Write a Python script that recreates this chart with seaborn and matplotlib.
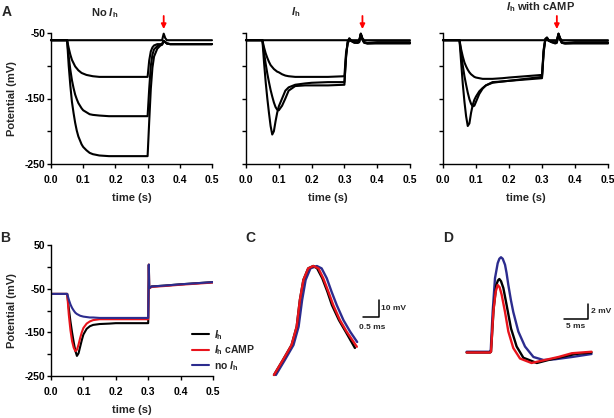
import numpy as np
import pandas as pd
import matplotlib
matplotlib.use('Agg')
import matplotlib.pyplot as plt
import seaborn as sns

sns.set_style('ticks')
plt.rcParams['font.family'] = ['Liberation Sans', 'DejaVu Sans']
plt.rcParams['font.weight'] = 'bold'
plt.rcParams['mathtext.fontset'] = 'custom'
plt.rcParams['mathtext.rm'] = 'Liberation Sans'
plt.rcParams['mathtext.it'] = 'Liberation Sans:italic'
plt.rcParams['mathtext.bf'] = 'Liberation Sans:bold'

BLACK = '#000000'
RED = '#e8141c'
BLUE = '#2c2c8e'

# ---- Panel A: time (s) and membrane potential (mV) ----
t_a = [0.0, 0.05, 0.055, 0.06, 0.065, 0.07, 0.075, 0.08, 0.085, 0.09, 0.095, 0.10,
       0.11, 0.12, 0.13, 0.15, 0.18, 0.20, 0.25, 0.30, 0.305, 0.31, 0.315, 0.32,
       0.33, 0.34, 0.345, 0.35, 0.355, 0.36, 0.37, 0.40, 0.45, 0.50]

# no Ih
a1_rest = [-61, -61, -61, -61, -61, -61, -61, -61, -61, -61, -61, -61, -61, -61, -61, -61, -61,
           -61, -61, -61, -61, -61, -61, -61, -61, -61, -61, -51, -58, -61, -61, -61, -61, -61]
a1_small = [-61, -61, -73, -83, -91, -96, -101, -104, -107, -109, -111, -112, -114, -115, -116,
            -117, -117, -117, -117, -117, -92, -78, -72, -69, -67, -67, -67, -62, -64, -66, -67,
            -67, -67, -67]
a1_mid = [-61, -61, -86, -106, -122, -134, -144, -151, -157, -161, -165, -168, -171, -174, -175,
          -176, -177, -177, -177, -177, -135, -100, -83, -75, -70, -68, -67, -62, -64, -66, -67,
          -67, -67, -67]
a1_big = [-61, -61, -100, -130, -155, -172, -187, -199, -208, -214, -220, -224, -229, -233, -235,
          -237, -238, -238, -238, -238, -185, -135, -103, -86, -74, -69, -68, -62, -64, -66, -67,
          -67, -67, -67]

# Ih
a2_rest = a1_rest
a2_small = [-61, -61, -72, -81, -88, -94, -99, -102, -105, -107, -109, -110, -113, -115, -116,
            -117, -117, -117, -117, -116, -80, -66, -61, -62, -64, -64, -63, -52, -60, -64, -65,
            -64, -64, -64]
a2_mid = [-61, -61, -80, -97, -112, -125, -137, -147, -156, -163, -167, -168, -161, -150, -138,
          -131, -130, -130, -130, -129, -85, -64, -59, -62, -65, -65, -64, -52, -60, -65, -66,
          -65, -65, -65]
a2_big = [-61, -61, -95, -125, -150, -172, -192, -205, -200, -185, -172, -162, -150, -138, -133,
          -129, -127, -126, -125, -125, -88, -63, -58, -61, -64, -65, -64, -51, -60, -64, -66,
          -66, -66, -66]

# Ih with cAMP
a3_rest = a1_rest
a3_small = [-61, -61, -75, -86, -95, -101, -106, -110, -113, -115, -117, -118, -119, -120, -120,
            -120, -119, -118, -116, -114, -75, -60, -58, -62, -64, -64, -63, -51, -60, -64, -65,
            -64, -64, -64]
a3_mid = [-61, -61, -82, -100, -116, -129, -141, -151, -158, -162, -161, -155, -143, -135, -130,
          -126, -124, -123, -120, -117, -78, -59, -57, -61, -64, -65, -64, -52, -60, -65, -66,
          -65, -65, -65]
a3_big = [-61, -61, -95, -128, -155, -177, -192, -188, -172, -160, -152, -147, -139, -134, -130,
          -125, -124, -123, -121, -119, -80, -60, -57, -61, -64, -66, -65, -52, -60, -65, -66,
          -66, -66, -66]

a_titles = [r'No $\it{I}_{\rm h}$', r'$\it{I}_{\rm h}$', r'$\it{I}_{\rm h}$ with cAMP']
arrow_t = [0.35, 0.355, 0.345]

# ---- Panel B ----
t_b = [0.0, 0.05, 0.055, 0.06, 0.065, 0.07, 0.075, 0.08, 0.085, 0.09, 0.095, 0.10, 0.11,
       0.12, 0.13, 0.15, 0.18, 0.20, 0.25, 0.30, 0.301, 0.302, 0.303, 0.305, 0.31, 0.35,
       0.40, 0.45, 0.50]
b_ih = [-62, -62, -95, -125, -150, -172, -192, -204, -198, -183, -168, -155, -142, -136, -133,
        -131, -130, -129, -129, -129, -60, 5, -45, -48, -45, -43, -40, -37.5, -35]
b_camp = [-62, -62, -110, -145, -170, -185, -193, -190, -178, -163, -150, -140, -130, -125, -122,
          -120, -120, -120, -120, -120, -60, 5, -46, -49, -46, -44, -41, -38.5, -36]
b_noih = [-62, -62, -75, -86, -94, -100, -105, -108, -110, -112, -113, -114, -115, -116, -116,
          -117, -117, -117, -117, -117, -60, 5, -45, -48, -45, -43, -40, -37.5, -35]
b_labels = [r'$\it{I}_{\rm h}$', r'$\it{I}_{\rm h}$ cAMP', r'no $\it{I}_{\rm h}$']

# ---- Panel C: spike (ms, mV) ----
c_t_ih = [0.28, 0.56, 0.83, 0.99, 1.09, 1.20, 1.35, 1.51, 1.63, 1.79, 1.95, 2.09, 2.31, 2.52, 2.81]
c_v_ih = [-34.1, -25.3, -16.5, -5.7, 10.0, 21.8, 28.6, 30.0, 28.6, 22.8, 14.9, 7.1, -1.8, -8.6, -18.2]
c_t_camp = [0.28, 0.56, 0.83, 0.99, 1.09, 1.20, 1.35, 1.51, 1.67, 1.82, 1.98, 2.13, 2.34, 2.55, 2.87]
c_v_camp = [-34.1, -25.3, -16.5, -5.7, 10.0, 21.8, 28.6, 30.0, 28.6, 22.8, 14.9, 7.1, -1.8, -8.6, -17.5]
c_t_noih = [0.34, 0.62, 0.89, 1.05, 1.16, 1.27, 1.42, 1.62, 1.77, 1.93, 2.08, 2.24, 2.45, 2.66, 2.88]
c_v_noih = [-34.1, -25.3, -16.5, -5.7, 10.0, 21.8, 28.6, 30.0, 28.6, 22.8, 14.9, 7.1, -1.8, -8.6, -14.7]

# ---- Panel D: EPSP (ms, mV) ----
d_t_ih = [1.39, 6.25, 6.46, 7.01, 7.57, 7.9, 8.19, 8.55, 9.03, 9.72, 10.63, 11.8, 13.2, 16.0,
          18.4, 21.2, 24.0, 27.4]
d_v_ih = [0.0, 0.0, 0.1, 5.9, 9.0, 9.6, 9.8, 9.5, 8.6, 6.3, 3.2, 0.8, -0.7, -1.4, -1.0, -0.6,
          -0.2, 0.0]
d_t_camp = [1.39, 6.25, 6.46, 6.94, 7.43, 7.85, 8.25, 8.68, 9.38, 10.07, 11.1, 12.5, 14.9, 17.7,
            20.5, 23.3, 27.4]
d_v_camp = [0.0, 0.0, 0.1, 5.4, 8.1, 9.0, 8.7, 7.7, 5.4, 2.8, 0.6, -0.8, -1.4, -1.0, -0.6, -0.1,
            0.1]
d_t_noih = [1.39, 6.25, 6.39, 6.8, 7.29, 7.85, 8.2, 8.54, 8.9, 9.38, 9.7, 10.07, 10.6, 11.1,
            12.15, 13.54, 15.3, 17.4, 19.8, 23.3, 27.4]
d_v_noih = [0.1, 0.1, 0.1, 5.4, 9.9, 11.9, 12.5, 12.7, 12.5, 11.7, 10.6, 9.0, 7.0, 5.4, 2.8,
            0.8, -0.6, -1.0, -0.9, -0.6, -0.2]

x_ticks = [0.0, 0.1, 0.2, 0.3, 0.4, 0.5]
x_ticklabels = ['0.0', '0.1', '0.2', '0.3', '0.4', '0.5']

W, H = 614, 418
fig = plt.figure(figsize=(W / 100, H / 100), dpi=100)


def px_axes(x0, y0, x1, y1):
    return fig.add_axes([x0 / W, 1 - y1 / H, (x1 - x0) / W, (y1 - y0) / H])


def style(ax, ylim, yticks, ylabels, show_ylabel):
    ax.set_xlim(0, 0.5)
    ax.set_ylim(*ylim)
    ax.set_xticks(x_ticks)
    ax.set_xticklabels(x_ticklabels)
    ax.set_yticks(yticks)
    ax.set_yticklabels(ylabels)
    sns.despine(ax=ax)
    for s in ['left', 'bottom']:
        ax.spines[s].set_linewidth(1.0)
        ax.spines[s].set_color('black')
    ax.tick_params(axis='both', length=3, width=1.0, labelsize=7.5, colors='black')
    ax.tick_params(axis='y', pad=1)
    ax.tick_params(axis='x', pad=5)
    ax.set_xlabel('time (s)', fontsize=8, fontweight='bold')
    ax.xaxis.set_label_coords(0.5, -0.22)
    if show_ylabel:
        ax.set_ylabel('Potential (mV)', fontsize=8, fontweight='bold')
        ax.yaxis.set_label_coords(-0.21, 0.5)
    else:
        ax.set_ylabel('')


# ---- A panels ----
a_sets = [[a1_rest, a1_small, a1_mid, a1_big],
          [a2_rest, a2_small, a2_mid, a2_big],
          [a3_rest, a3_small, a3_mid, a3_big]]
a_boxes = [(51, 33, 212, 164), (246, 33, 410, 164), (443, 33, 608, 164)]
a_title_pos = [(105, 13), (296, 12), (541, 7)]
a_yticks = [-250, -200, -150, -100, -50]

for i, (traces, box) in enumerate(zip(a_sets, a_boxes)):
    ax = px_axes(*box)
    df = pd.DataFrame({
        't': np.tile(t_a, len(traces)),
        'v': np.concatenate(traces),
        'trace': np.repeat(np.arange(len(traces)), len(t_a)),
    })
    sns.lineplot(data=df, x='t', y='v', units='trace', estimator=None, color=BLACK,
                 lw=1.5, sort=False, ax=ax, legend=False)
    for ln in ax.lines:
        ln.set_clip_on(False)
    labels = ['-250', '', '-150', '', '-50'] if i == 0 else [''] * 5
    style(ax, (-250, -50), a_yticks, labels, i == 0)
    ax.annotate('', xy=(arrow_t[i], 1.03), xytext=(arrow_t[i], 1.13),
                xycoords=('data', 'axes fraction'),
                arrowprops=dict(arrowstyle='-|>', color='red', lw=1.3,
                                mutation_scale=7, shrinkA=0, shrinkB=0),
                annotation_clip=False)
    tx, ty = a_title_pos[i]
    fig.text(tx / W, 1 - ty / H, a_titles[i], ha='center', va='center',
             fontsize=8, fontweight='bold')

# ---- B panel ----
axb = px_axes(51, 245, 213, 376)
dfb = pd.DataFrame({
    't': np.tile(t_b, 3),
    'v': np.concatenate([b_ih, b_camp, b_noih]),
    'cond': np.repeat(b_labels, len(t_b)),
})
sns.lineplot(data=dfb, x='t', y='v', hue='cond', hue_order=b_labels,
             palette=[BLACK, RED, BLUE], estimator=None, lw=1.5, sort=False, ax=axb)
style(axb, (-250, 50), [-250, -200, -150, -100, -50, 0, 50],
      ['-250', '', '-150', '', '-50', '', '50'], True)
handles, labels = axb.get_legend_handles_labels()
axb.legend(handles, labels, loc='upper left', bbox_to_anchor=(192 / W, 1 - 328 / H),
           bbox_transform=fig.transFigure, frameon=False, fontsize=7.5,
           handlelength=1.65, handletextpad=0.5, labelspacing=0.15,
           borderpad=0, borderaxespad=0)

# ---- C panel ----
axc = px_axes(265, 255, 400, 385)
dfc = pd.DataFrame({
    't': c_t_noih + c_t_ih + c_t_camp,
    'v': c_v_noih + c_v_ih + c_v_camp,
    'cond': ['no'] * len(c_t_noih) + ['ih'] * len(c_t_ih) + ['camp'] * len(c_t_camp),
})
sns.lineplot(data=dfc, x='t', y='v', hue='cond', palette={'no': BLUE, 'ih': BLACK, 'camp': RED},
             estimator=None, lw=1.7, sort=False, ax=axc, legend=False)
axc.set_xlim(0, 135 / 32)
axc.set_ylim(-40, 130 / 1.7 - 40)
axc.axis('off')
# scale bar: 0.5 ms, 10 mV
axc.plot([3.06, 3.56, 3.56], [0, 0, 10], color='black', lw=1.1)
axc.text(3.62, 5, '10 mV', fontsize=6, fontweight='bold', va='center', ha='left')
axc.text(3.36, -5.9, '0.5 ms', fontsize=6, fontweight='bold', va='center', ha='center')

# ---- D panel ----
axd = px_axes(460, 250, 612, 375)
dfd = pd.DataFrame({
    't': d_t_noih + d_t_ih + d_t_camp,
    'v': d_v_noih + d_v_ih + d_v_camp,
    'cond': ['no'] * len(d_t_noih) + ['ih'] * len(d_t_ih) + ['camp'] * len(d_t_camp),
})
sns.lineplot(data=dfd, x='t', y='v', hue='cond', palette={'no': BLUE, 'ih': BLACK, 'camp': RED},
             estimator=None, lw=1.7, sort=False, ax=axd, legend=False)
axd.set_xlim(0, 152 / 4.8)
axd.set_ylim(-3, 125 / 7.5 - 3)
axd.axis('off')
# scale bar: 5 ms, 2 mV
axd.plot([21.7, 26.7, 26.7], [4.47, 4.47, 6.47], color='black', lw=1.1)
axd.text(27.2, 5.5, '2 mV', fontsize=6, fontweight='bold', va='center', ha='left')
axd.text(24.1, 3.44, '5 ms', fontsize=6, fontweight='bold', va='center', ha='center')

# panel letters
for letter, (lx, ly) in zip('ABCD', [(7, 12), (5, 238), (250, 238), (448, 238)]):
    fig.text(lx / W, 1 - ly / H, letter, fontsize=10, fontweight='bold',
             ha='center', va='center')

fig.savefig('out.png', dpi=100)
